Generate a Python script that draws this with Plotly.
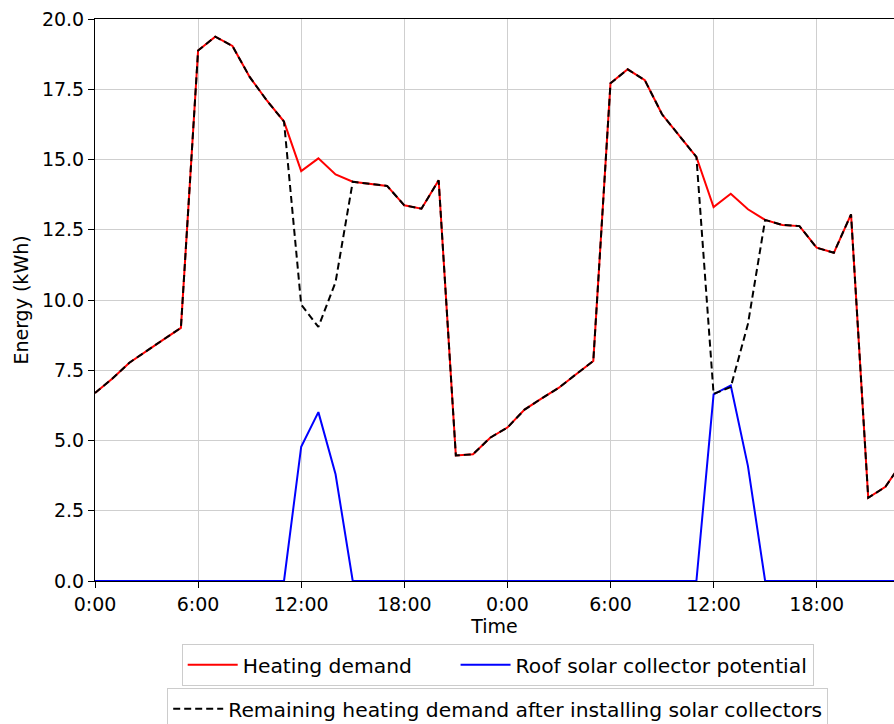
import plotly.graph_objects as go

# Hourly values over two days (hour index 0..47)
hours = list(range(48))
tick_hours = [0, 6, 12, 18, 24, 30, 36, 42]
tick_labels = ["0:00", "6:00", "12:00", "18:00", "0:00", "6:00", "12:00", "18:00"]

heating_demand = [
    6.69, 7.20, 7.77, 8.20, 8.60, 9.01, 18.88, 19.37, 19.04, 17.94, 17.10, 16.35,
    14.59, 15.04, 14.47, 14.21, 14.13, 14.06, 13.37, 13.25, 14.26, 4.47, 4.51, 5.10,
    5.46, 6.10, 6.50, 6.88, 7.36, 7.83, 17.71, 18.21, 17.82, 16.61, 15.85, 15.09,
    13.31, 13.78, 13.23, 12.85, 12.67, 12.63, 11.86, 11.68, 13.05, 2.96, 3.35, 4.25,
]

solar_potential = [
    0, 0, 0, 0, 0, 0, 0, 0, 0, 0, 0, 0,
    4.78, 6.01, 3.80, 0, 0, 0, 0, 0, 0, 0, 0, 0,
    0, 0, 0, 0, 0, 0, 0, 0, 0, 0, 0, 0,
    6.64, 6.96, 4.09, 0, 0, 0, 0, 0, 0, 0, 0, 0,
]

remaining_demand = [
    6.69, 7.20, 7.77, 8.20, 8.60, 9.01, 18.88, 19.37, 19.04, 17.94, 17.10, 16.35,
    9.84, 9.04, 10.64, 14.21, 14.13, 14.06, 13.37, 13.25, 14.26, 4.47, 4.51, 5.10,
    5.46, 6.10, 6.50, 6.88, 7.36, 7.83, 17.71, 18.21, 17.82, 16.61, 15.85, 15.09,
    6.66, 6.90, 9.15, 12.85, 12.67, 12.63, 11.86, 11.68, 13.05, 2.96, 3.35, 4.25,
]

y_ticks = [0, 2.5, 5, 7.5, 10, 12.5, 15, 17.5, 20]

FONT = "DejaVu Sans"
W, H = 894, 724
NBSP = "\u00a0"

fig = go.Figure()
fig.add_trace(go.Scatter(
    x=hours, y=heating_demand, mode="lines",
    name="Heating demand" + NBSP * 6,
    line=dict(color="#ff0000", width=2), legend="legend",
))
fig.add_trace(go.Scatter(
    x=hours, y=solar_potential, mode="lines", name="Roof solar collector potential",
    line=dict(color="#0000ff", width=2), legend="legend",
))
fig.add_trace(go.Scatter(
    x=hours, y=remaining_demand, mode="lines",
    name="Remaining heating demand after installing solar collectors",
    line=dict(color="#000000", width=2, dash="7px,4px"), legend="legend2",
))

legend_style = dict(
    orientation="h", x=0.504, xanchor="center", yref="container", yanchor="top",
    bordercolor="#cccccc", borderwidth=1, bgcolor="rgba(255,255,255,0.8)",
    font=dict(size=20.3), itemwidth=50,
)

fig.update_layout(
    width=W, height=H,
    margin=dict(l=95, r=0, t=19, b=143),
    paper_bgcolor="white", plot_bgcolor="white",
    font=dict(family=FONT, size=19, color="#000000"),
    xaxis=dict(
        range=[0, 46.5], tickvals=tick_hours, ticktext=tick_labels,
        showgrid=True, gridcolor="#cfcfcf", gridwidth=1,
        showline=True, linecolor="#000000", linewidth=1, mirror=True,
        ticks="outside", ticklen=6, tickcolor="#000000",
        zeroline=False,
        title=dict(text="Time", standoff=4, font=dict(size=19)),
    ),
    yaxis=dict(
        range=[0, 20], tickvals=y_ticks,
        ticktext=[f"{v:.1f}" for v in y_ticks],
        showgrid=True, gridcolor="#cfcfcf", gridwidth=1,
        showline=True, linecolor="#000000", linewidth=1, mirror=False,
        ticks="outside", ticklen=6, tickcolor="#000000",
        zeroline=False,
        title=dict(text="Energy (kWh)", standoff=8, font=dict(size=19)),
    ),
    legend=dict(legend_style, y=1 - 644 / H),
    legend2=dict(legend_style, y=1 - 688 / H),
    showlegend=True,
)

fig.write_html("out.html")
